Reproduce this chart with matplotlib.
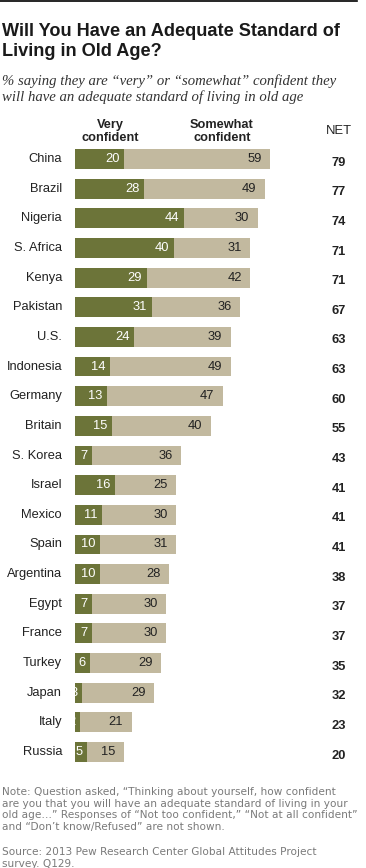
import matplotlib
matplotlib.use("Agg")
from matplotlib import pyplot as plt

# data
countries = ["China", "Brazil", "Nigeria", "S. Africa", "Kenya", "Pakistan", "U.S.",
             "Indonesia", "Germany", "Britain", "S. Korea", "Israel", "Mexico", "Spain",
             "Argentina", "Egypt", "France", "Turkey", "Japan", "Italy", "Russia"]
very = [20, 28, 44, 40, 29, 31, 24, 14, 13, 15, 7, 16, 11, 10, 10, 7, 7, 6, 3, 2, 5]
somewhat = [59, 49, 30, 31, 42, 36, 39, 49, 47, 40, 36, 25, 30, 31, 28, 30, 30, 29, 29, 21, 15]
net = [79, 77, 74, 71, 71, 67, 63, 63, 60, 55, 43, 41, 41, 41, 38, 37, 37, 35, 32, 23, 20]

DARK = "#6c7439"
LIGHT = "#c2b99f"
W, H = 366, 868

fig = plt.figure(figsize=(W / 100, H / 100), dpi=100)

def fx(px):
    return px / W

def fy(py):
    return 1 - py / H

# top rule
fig.add_artist(plt.Line2D([0, fx(357)], [fy(1), fy(1)], color="black", lw=1.2))

# baseline of the last line is used for multi-line text
fig.text(fx(2), fy(56), "Will You Have an Adequate Standard of\nLiving in Old Age?",
         fontsize=13.1, fontweight="bold", family="Liberation Sans", va="baseline",
         linespacing=1.22, color="#1a1a1a")
fig.text(fx(2), fy(101), "% saying they are \u201cvery\u201d or \u201csomewhat\u201d confident they\n"
         "will have an adequate standard of living in old age",
         fontsize=10.6, style="italic", family="Liberation Serif", va="baseline",
         linespacing=1.2, color="#333333")

# bars axes: data 0 at px 75, 2.47 px per point
left_px, top_px, bot_px = 75, 144.2, 766.8
scale = 2.47
ax = fig.add_axes([fx(left_px), fy(bot_px), fx(W - left_px), (bot_px - top_px) / H])
ax.set_xlim(0, (W - left_px) / scale)
ax.set_ylim(len(countries) - 0.5, -0.5)
ax.axis("off")

ypos = list(range(len(countries)))
ax.barh(ypos, very, height=0.67, color=DARK, lw=0)
ax.barh(ypos, somewhat, left=very, height=0.67, color=LIGHT, lw=0)

lab_font = dict(fontsize=9.3, family="Liberation Sans", va="center")
trans = ax.get_yaxis_transform()
for i, c in enumerate(countries):
    ax.text(-13 / 291, i, c, ha="right", transform=trans, color="#222222", **lab_font)
    ax.text(very[i] - 1.8, i, str(very[i]), ha="right", color="white", **lab_font)
    ax.text(very[i] + somewhat[i] - 3.5, i, str(somewhat[i]), ha="right", color="#222222", **lab_font)
    ax.text((339 - left_px) / 291, i + 0.12, str(net[i]), ha="center", transform=trans,
            color="#222222", fontweight="bold", **lab_font)

# column headers
hdr = dict(fontsize=9.2, fontweight="bold", family="Liberation Sans", ha="center",
           va="baseline", linespacing=1.1, color="#222222")
fig.text(fx(110), fy(141), "Very\nconfident", **hdr)
fig.text(fx(222), fy(141), "Somewhat\nconfident", **hdr)
fig.text(fx(339), fy(134), "NET", **{**hdr, "fontweight": "normal", "fontsize": 9.4})

note_font = dict(fontsize=7.6, family="DejaVu Sans", va="baseline", color="#7a7a7a",
                 linespacing=1.2)
fig.text(fx(2), fy(830),
         "Note: Question asked, \u201cThinking about yourself, how confident\n"
         "are you that you will have an adequate standard of living in your\n"
         "old age\u2026\u201d Responses of \u201cNot too confident,\u201d \u201cNot at all confident\u201d\n"
         "and \u201cDon\u2019t know/Refused\u201d are not shown.", **note_font)
fig.text(fx(2), fy(867), "Source: 2013 Pew Research Center Global Attitudes Project\nsurvey. Q129.",
         **note_font)

fig.savefig("out.png", dpi=100)
